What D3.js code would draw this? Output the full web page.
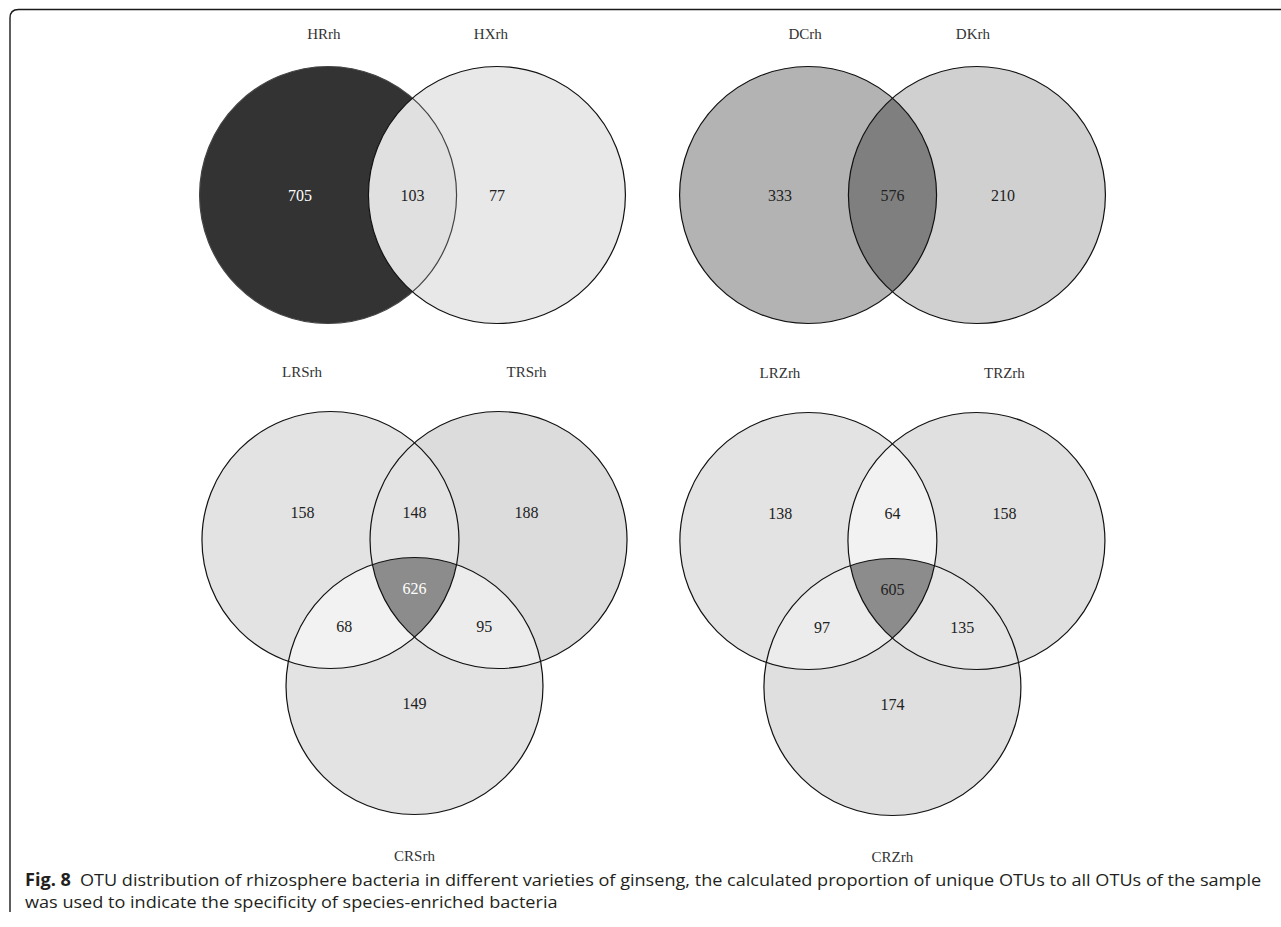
<!DOCTYPE html>
<html>
<head>
<meta charset="utf-8">
<script src="https://cdn.jsdelivr.net/npm/d3@7"></script>
<style>
  body { margin: 0; background: #fff; }
  svg { display: block; }
</style>
</head>
<body>
<div id="chart-container"></div>
<script>
// set names and OTU counts
// pair order: [A only, A&B, B only]
const hrSets = ["HRrh", "HXrh"];
const hrCounts = [705, 103, 77];
const dcSets = ["DCrh", "DKrh"];
const dcCounts = [333, 576, 210];
// triple order: [A only, A&B, B only, A&B&C, A&C, B&C, C only]
const rsSets = ["LRSrh", "TRSrh", "CRSrh"];
const rsCounts = [158, 148, 188, 626, 68, 95, 149];
const rzSets = ["LRZrh", "TRZrh", "CRZrh"];
const rzCounts = [138, 64, 158, 605, 97, 135, 174];

const captionBold = "Fig. 8";
const captionLines = [
  "OTU distribution of rhizosphere bacteria in different varieties of ginseng, the calculated proportion of unique OTUs to all OTUs of the sample",
  "was used to indicate the specificity of species-enriched bacteria"
];

const width = 1281, height = 927;
const R = 128.5;

// unit layouts (in circle radii)
const pairCentres = [[-0.657, 0], [0.657, 0]];
const tripleCentres = [[-0.654, -0.568], [0.654, -0.568], [0, 0.568]];
const tripleTitles = [[-0.875, -1.876], [0.872, -1.876], [0, 1.89]];
const tripleLabels = [[-0.872, -0.786], [0, -0.786], [0.872, -0.786], [0, -0.195], [-0.547, 0.107], [0.543, 0.107], [0, 0.705]];

const panels = [
  { sets: hrSets, counts: hrCounts, cx: 412.5, cy: 195,
    centres: pairCentres,
    titles: [[-0.69, -1.253], [0.61, -1.253]],
    labels: [[-0.875, 0], [0, 0], [0.658, 0]],
    fills: ["#333333", "#e8e8e8"], pairFills: ["#e0e0e0"],
    strokes: ["#444", "#111"],
    textFill: ["#fff", "#222", "#222"] },
  { sets: dcSets, counts: dcCounts, cx: 892.5, cy: 195,
    centres: pairCentres,
    titles: [[-0.68, -1.253], [0.626, -1.253]],
    labels: [[-0.875, 0], [0, 0], [0.86, 0]],
    fills: ["#b3b3b3", "#d0d0d0"], pairFills: ["#7f7f7f"],
    strokes: ["#111", "#111"],
    textFill: ["#222", "#222", "#222"] },
  { sets: rsSets, counts: rsCounts, cx: 414.5, cy: 613,
    centres: tripleCentres, titles: tripleTitles, labels: tripleLabels,
    fills: ["#e3e3e3", "#dcdcdc", "#e3e3e3"],
    pairFills: ["#e3e3e3", "#f2f2f2", "#ececec"], tripleFill: "#8c8c8c",
    strokes: ["#111", "#111", "#111"],
    textFill: ["#222", "#222", "#222", "#fff", "#222", "#222", "#222"] },
  { sets: rzSets, counts: rzCounts, cx: 892.4, cy: 614,
    centres: tripleCentres, titles: tripleTitles, labels: tripleLabels,
    fills: ["#e3e3e3", "#e0e0e0", "#dfdfdf"],
    pairFills: ["#f2f2f2", "#ececec", "#e5e5e5"], tripleFill: "#8c8c8c",
    strokes: ["#111", "#111", "#111"],
    textFill: ["#222", "#222", "#222", "#222", "#222", "#222", "#222"] }
];

const svg = d3.select("#chart-container")
  .append("svg")
  .attr("width", width)
  .attr("height", height);

const defs = svg.append("defs");

// frame: rounded top-left corner
svg.append("path")
  .attr("d", "M10,912 L10,18 Q10,9.5 18.5,9.5 L1281,9.5")
  .attr("fill", "none")
  .attr("stroke", "#1a1a1a")
  .attr("stroke-width", 1.4);

panels.forEach((p, pi) => {
  const x = d3.scaleLinear().domain([-1, 1]).range([p.cx - R, p.cx + R]);
  const y = d3.scaleLinear().domain([-1, 1]).range([p.cy - R, p.cy + R]);
  const g = svg.append("g").attr("class", "venn");

  // clip paths, one per circle
  p.centres.forEach((c, i) => {
    defs.append("clipPath").attr("id", `clip-${pi}-${i}`)
      .append("circle")
      .attr("cx", x(c[0])).attr("cy", y(c[1])).attr("r", R);
  });

  // single sets
  g.selectAll("circle.base")
    .data(p.centres)
    .enter()
    .append("circle")
    .attr("class", "base")
    .attr("cx", d => x(d[0]))
    .attr("cy", d => y(d[1]))
    .attr("r", R)
    .attr("fill", (d, i) => p.fills[i]);

  // pairwise overlaps: AB, AC, BC
  const pairs = p.centres.length === 2 ? [[0, 1]] : [[0, 1], [0, 2], [1, 2]];
  pairs.forEach((pr, k) => {
    const c = p.centres[pr[1]];
    g.append("g").attr("clip-path", `url(#clip-${pi}-${pr[0]})`)
      .append("circle")
      .attr("cx", x(c[0])).attr("cy", y(c[1])).attr("r", R)
      .attr("fill", p.pairFills[k]);
  });

  // triple overlap
  if (p.centres.length === 3) {
    const c = p.centres[2];
    g.append("g").attr("clip-path", `url(#clip-${pi}-0)`)
      .append("g").attr("clip-path", `url(#clip-${pi}-1)`)
      .append("circle")
      .attr("cx", x(c[0])).attr("cy", y(c[1])).attr("r", R)
      .attr("fill", p.tripleFill);
  }

  // outlines
  g.selectAll("circle.outline")
    .data(p.centres)
    .enter()
    .append("circle")
    .attr("class", "outline")
    .attr("cx", d => x(d[0]))
    .attr("cy", d => y(d[1]))
    .attr("r", R)
    .attr("fill", "none")
    .attr("stroke", (d, i) => p.strokes[i])
    .attr("stroke-width", 1.2);

  // counts
  g.selectAll("text.count")
    .data(p.counts)
    .enter()
    .append("text")
    .attr("class", "count")
    .attr("x", (d, i) => x(p.labels[i][0]))
    .attr("y", (d, i) => y(p.labels[i][1]))
    .attr("dy", "0.35em")
    .style("text-anchor", "middle")
    .style("font-family", "'Liberation Serif', serif")
    .style("font-size", "16px")
    .style("fill", (d, i) => p.textFill[i])
    .text(d => d);

  // set names
  g.selectAll("text.setname")
    .data(p.sets)
    .enter()
    .append("text")
    .attr("class", "setname")
    .attr("x", (d, i) => x(p.titles[i][0]))
    .attr("y", (d, i) => y(p.titles[i][1]))
    .attr("dy", "0.35em")
    .style("text-anchor", "middle")
    .style("font-family", "'Liberation Serif', serif")
    .style("font-size", "15px")
    .style("fill", "#333")
    .text(d => d);
});

/* caption */
const cap = svg.append("g").attr("class", "caption");
const line1 = cap.append("text")
  .attr("x", 25).attr("y", 886)
  .style("font-family", "'Open Sans', sans-serif")
  .style("font-size", "17px")
  .style("fill", "#231f20");
line1.append("tspan").style("font-weight", "bold").text(captionBold);
line1.append("tspan").text("\u2002" + captionLines[0]);
const line2 = cap.append("text")
  .attr("x", 25).attr("y", 908)
  .style("font-family", "'Open Sans', sans-serif")
  .style("font-size", "17px")
  .style("fill", "#231f20")
  .text(captionLines[1]);

// squeeze the caption to the condensed width of the original
const w1 = line1.node().getComputedTextLength();
const sx = (1262 - 25) / w1;
cap.attr("transform", `translate(25,0) scale(${sx},1) translate(-25,0)`);
</script>
</body>
</html>
